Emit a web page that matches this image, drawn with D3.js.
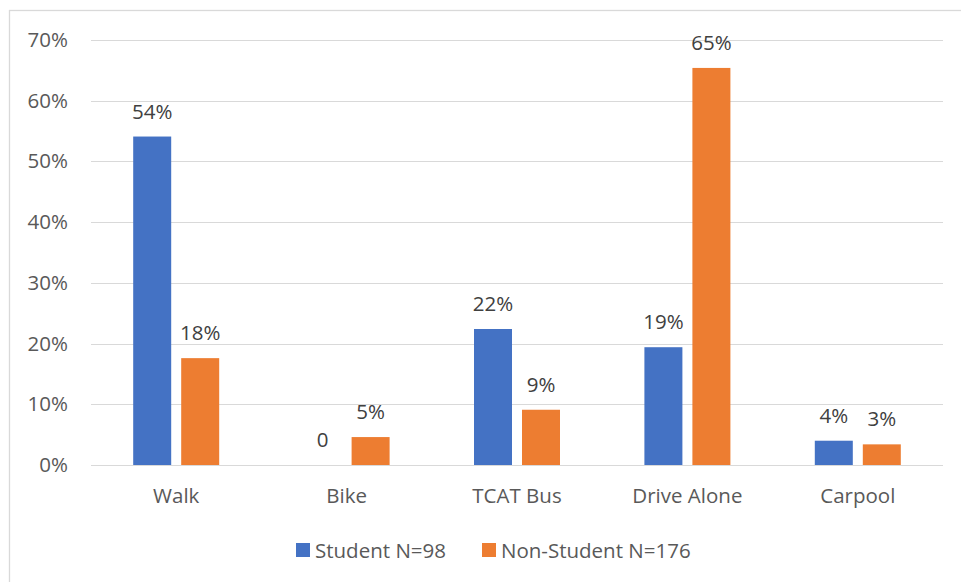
<!DOCTYPE html>
<html>
<head>
<meta charset="utf-8">
<script src="https://cdn.jsdelivr.net/npm/d3@7"></script>
<style>
  html, body { margin: 0; padding: 0; background: #fff; }
  svg { display: block; font-family: "Open Sans", Lato, "Liberation Sans", sans-serif; }
</style>
</head>
<body>
<svg id="chart" width="961" height="582"></svg>
<script>
// Commute mode share by respondent group
const categories = ["Walk", "Bike", "TCAT Bus", "Drive Alone", "Carpool"];
const seriesNames = ["Student N=98", "Non-Student N=176"];
const studentValues = [0.541, 0, 0.224, 0.194, 0.040];
const nonStudentValues = [0.176, 0.046, 0.091, 0.654, 0.034];
const yTicks = [0, 0.1, 0.2, 0.3, 0.4, 0.5, 0.6, 0.7];
const colors = ["#4472c4", "#ed7d31"];

const series = [studentValues, nonStudentValues];
const FONT = "'Open Sans', Lato, sans-serif";
const FS = 20.5;

const svg = d3.select("#chart");

// outer chart frame
svg.append("rect")
  .attr("x", 9.5).attr("y", 10.5)
  .attr("width", 1000).attr("height", 1000)
  .attr("fill", "none").attr("stroke", "#d9d9d9").attr("stroke-width", 1.3);

const plot = { left: 91, right: 943, top: 40, bottom: 465 };

const x = d3.scaleBand().domain(categories).range([plot.left, plot.right]);
const y = d3.scaleLinear().domain([0, 0.7]).range([plot.bottom, plot.top]);

// gridlines
svg.append("g")
  .selectAll("line").data(yTicks).join("line")
  .attr("x1", plot.left).attr("x2", plot.right)
  .attr("y1", d => Math.round(y(d)) + 0.5).attr("y2", d => Math.round(y(d)) + 0.5)
  .attr("stroke", "#d9d9d9").attr("stroke-width", 1.2);

// y axis labels
const yAxis = d3.axisLeft(y).tickValues(yTicks).tickFormat(d3.format(".0%")).tickSize(0).tickPadding(0);
const gy = svg.append("g").attr("transform", `translate(68,0)`).call(yAxis);
gy.select(".domain").remove();
gy.selectAll("text")
  .attr("fill", "#595959").attr("font-size", FS)
  .attr("font-family", FONT);

// x axis labels
const xAxis = d3.axisBottom(x).tickSize(0).tickPadding(0);
const gx = svg.append("g").attr("transform", `translate(0,${plot.bottom})`).call(xAxis);
gx.select(".domain").remove();
gx.selectAll("text")
  .attr("fill", "#595959").attr("font-size", FS)
  .attr("dy", null).attr("y", 38)
  .attr("font-family", FONT);

// bars
const barW = 38, gap = 10;

const groups = svg.append("g").selectAll("g").data(categories).join("g")
  .attr("transform", d => `translate(${x(d) + x.bandwidth() / 2 - (barW * 2 + gap) / 2},0)`);

const fmt = v => v === 0 ? "0" : d3.format(".0%")(v);

series.forEach((vals, si) => {
  groups.append("rect")
    .attr("x", () => si * (barW + gap))
    .attr("y", (d, i) => y(vals[i]))
    .attr("width", barW)
    .attr("height", (d, i) => y(0) - y(vals[i]))
    .attr("fill", colors[si]);
  groups.append("text")
    .attr("x", () => si * (barW + gap) + barW / 2)
    .attr("y", (d, i) => y(vals[i]) - 18)
    .attr("text-anchor", "middle")
    .attr("font-size", FS)
    .attr("font-family", FONT)
    .attr("fill", "#404040")
    .text((d, i) => fmt(vals[i]));
});

// legend
const legend = svg.append("g").attr("transform", "translate(296,543)");
const legendX = [0, 186];
seriesNames.forEach((name, i) => {
  const g = legend.append("g").attr("transform", `translate(${legendX[i]},0)`);
  g.append("rect").attr("width", 14).attr("height", 14).attr("fill", colors[i]);
  g.append("text").attr("x", 19).attr("y", 14.5).attr("font-size", FS)
    .attr("font-family", FONT).attr("fill", "#595959").text(name);
});
</script>
</body>
</html>
